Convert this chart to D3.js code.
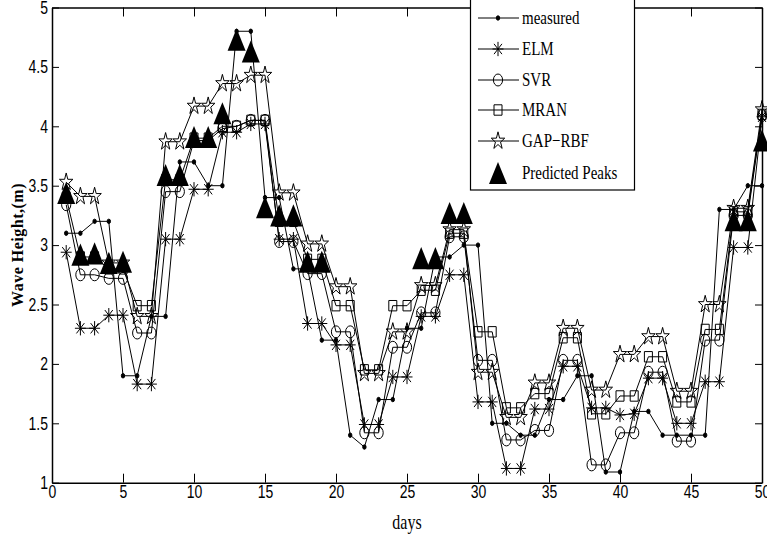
<!DOCTYPE html>
<html>
<head>
<meta charset="utf-8">
<script src="https://cdnjs.cloudflare.com/ajax/libs/d3/7.8.5/d3.min.js"></script>
<style>
    body { margin: 0; background: #fff; }
    svg { display: block; }
    .tick-label { font-family: "Liberation Sans", Arial, sans-serif; font-size: 14px; }
    .serif { font-family: "Liberation Serif", "Times New Roman", serif; }
</style>
</head>
<body>
<svg id="chart" width="767" height="540"></svg>
<script>
// days on the x axis
var days = [1, 2, 3, 4, 5, 6, 7, 8, 9, 10, 11, 12, 13, 14, 15, 16, 17, 18, 19, 20,
    21, 22, 23, 24, 25, 26, 27, 28, 29, 30, 31, 32, 33, 34, 35, 36, 37, 38, 39, 40,
    41, 42, 43, 44, 45, 46, 47, 48, 49, 50];

var xTicks = [0, 5, 10, 15, 20, 25, 30, 35, 40, 45, 50];
var yTicks = [1, 1.5, 2, 2.5, 3, 3.5, 4, 4.5, 5];

var measured = [3.10, 3.10, 3.20, 3.20, 1.90, 1.90, 2.40, 2.40, 3.70, 3.70,
    3.50, 3.50, 4.80, 4.80, 3.40, 3.40, 2.80, 2.80, 2.20, 2.20,
    1.40, 1.30, 1.70, 1.70, 2.30, 2.30, 2.90, 2.90, 3.00, 3.00,
    1.50, 1.50, 1.40, 1.40, 1.70, 1.70, 1.90, 1.90, 1.09, 1.09,
    1.60, 1.60, 1.40, 1.40, 1.40, 1.40, 3.30, 3.30, 3.50, 3.50];

var elm = [2.94, 2.30, 2.30, 2.41, 2.41, 1.83, 1.83, 3.05, 3.05, 3.47,
    3.47, 3.95, 3.95, 4.02, 4.02, 3.05, 3.05, 2.34, 2.34, 2.16,
    2.16, 1.49, 1.49, 1.89, 1.89, 2.40, 2.40, 2.75, 2.75, 1.68,
    1.68, 1.12, 1.12, 1.62, 1.62, 1.98, 1.98, 1.63, 1.63, 1.57,
    1.58, 1.88, 1.88, 1.50, 1.50, 1.85, 1.85, 2.98, 2.98, 4.08];

var svr = [3.34, 2.75, 2.75, 2.72, 2.72, 2.26, 2.26, 3.45, 3.45, 3.88,
    3.88, 3.98, 4.00, 4.05, 4.05, 3.03, 3.03, 2.76, 2.76, 2.27,
    2.27, 1.42, 1.42, 2.14, 2.14, 2.43, 2.43, 3.07, 3.07, 2.03,
    2.03, 1.36, 1.36, 1.44, 1.44, 2.03, 2.03, 1.15, 1.15, 1.42,
    1.42, 1.93, 1.93, 1.35, 1.35, 2.20, 2.20, 3.25, 3.25, 4.09];

var mran = [3.40, 2.90, 2.90, 2.80, 2.80, 2.49, 2.49, 3.55, 3.55, 3.90,
    3.90, 4.00, 4.00, 4.05, 4.05, 3.20, 3.20, 2.88, 2.88, 2.49,
    2.49, 1.95, 1.95, 2.49, 2.49, 2.62, 2.62, 3.10, 3.10, 2.27,
    2.27, 1.63, 1.63, 1.75, 1.75, 2.22, 2.22, 1.58, 1.58, 1.73,
    1.73, 2.06, 2.06, 1.68, 1.68, 2.29, 2.29, 3.28, 3.28, 4.10];

var gapRbf = [3.53, 3.41, 3.41, 2.85, 2.85, 2.40, 2.40, 3.87, 3.87, 4.17,
    4.17, 4.36, 4.36, 4.43, 4.43, 3.44, 3.44, 3.01, 3.01, 2.65,
    2.65, 1.92, 1.92, 2.27, 2.27, 2.66, 2.66, 3.13, 3.13, 1.93,
    1.93, 1.55, 1.55, 1.84, 1.84, 2.30, 2.30, 1.78, 1.78, 2.08,
    2.08, 2.23, 2.23, 1.77, 1.77, 2.50, 2.50, 3.31, 3.31, 4.14];

var peakDays = [1, 2, 3, 4, 5, 8, 9, 10, 11, 12, 13, 14, 15, 16, 17, 18, 19,
    26, 27, 28, 29, 48, 49, 50];
var peakValues = [3.44, 2.92, 2.93, 2.85, 2.86, 3.59, 3.59, 3.91, 3.91, 4.11, 4.73, 4.63, 3.32,
    3.25, 3.25, 2.86, 2.86, 2.89, 2.89, 3.27, 3.27, 3.21, 3.21, 3.88];

var legendNames = ['measured', 'ELM', 'SVR', 'MRAN', 'GAP\u2212RBF', 'Predicted Peaks'];

// the source figure is stretched vertically, so marks and text get this factor
var STRETCH = 1.3;

// marker shapes (d3.symbol custom types)
var markerTypes = {
    dot: { draw: function (ctx) { ctx.moveTo(1.7, 0); ctx.arc(0, 0, 1.7, 0, 2 * Math.PI); } },
    asterisk: { draw: function (ctx) {
        var r = 5.5, k = r * 0.72;
        ctx.moveTo(-r, 0); ctx.lineTo(r, 0);
        ctx.moveTo(0, -r); ctx.lineTo(0, r);
        ctx.moveTo(-k, -k); ctx.lineTo(k, k);
        ctx.moveTo(-k, k); ctx.lineTo(k, -k);
    } },
    circle: { draw: function (ctx) { ctx.moveTo(4.6, 0); ctx.arc(0, 0, 4.6, 0, 2 * Math.PI); } },
    square: { draw: function (ctx) { ctx.rect(-4, -4, 8, 8); } },
    star: { draw: function (ctx) { d3.symbolStar.draw(ctx, 56); } },
    triangle: { draw: function (ctx) {
        ctx.moveTo(0, -8.5); ctx.lineTo(9, 8.5); ctx.lineTo(-9, 8.5); ctx.closePath();
    } }
};

var seriesList = [
    { name: legendNames[0], values: measured, marker: 'dot', fill: '#000' },
    { name: legendNames[1], values: elm, marker: 'asterisk', fill: 'none' },
    { name: legendNames[2], values: svr, marker: 'circle', fill: 'none' },
    { name: legendNames[3], values: mran, marker: 'square', fill: 'none' },
    { name: legendNames[4], values: gapRbf, marker: 'star', fill: 'none' }
];

var margin = { left: 52, right: 5, top: 7.5, bottom: 57.3 },
    width = 767, height = 540;

var svg = d3.select('#chart');

var x = d3.scaleLinear().domain([0, 50]).range([margin.left, width - margin.right]);
var y = d3.scaleLinear().domain([1, 5]).range([height - margin.bottom, margin.top]);

function markerPath(type) {
    return d3.symbol().type(markerTypes[type])();
}

function placeMarker(px, py) {
    return 'translate(' + px + ',' + py + ') scale(1,' + STRETCH + ')';
}

// axes box with inward ticks
var xAxisG = svg.append('g')
    .attr('transform', 'translate(0,' + y(1) + ')')
    .call(d3.axisBottom(x).tickValues(xTicks).tickSizeInner(-9).tickSizeOuter(0).tickPadding(2));
var yAxisG = svg.append('g')
    .attr('transform', 'translate(' + x(0) + ',0)')
    .call(d3.axisLeft(y).tickValues(yTicks).tickSizeInner(-7).tickSizeOuter(0).tickPadding(4)
        .tickFormat(d3.format('')));
svg.append('g')
    .attr('transform', 'translate(0,' + y(5) + ')')
    .call(d3.axisTop(x).tickValues(xTicks).tickSizeInner(-9).tickSizeOuter(0).tickFormat(''));
svg.append('g')
    .attr('transform', 'translate(' + x(50) + ',0)')
    .call(d3.axisRight(y).tickValues(yTicks).tickSizeInner(-7).tickSizeOuter(0).tickFormat(''));

svg.selectAll('.domain').attr('stroke', '#000').attr('stroke-width', 1.5);
svg.selectAll('.tick line').attr('stroke', '#000').attr('stroke-width', 1);

xAxisG.selectAll('.tick text')
    .attr('class', 'tick-label')
    .attr('fill', '#000')
    .attr('transform', 'scale(1,' + STRETCH + ')');
yAxisG.selectAll('.tick text')
    .attr('class', 'tick-label')
    .attr('fill', '#000')
    .attr('transform', 'scale(1,' + STRETCH + ')');

// series lines + markers
var line = d3.line()
    .x(function (d) { return x(d.day); })
    .y(function (d) { return y(d.value); });

seriesList.forEach(function (s) {
    var pts = days.map(function (d, i) { return { day: d, value: s.values[i] }; });
    var g = svg.append('g').attr('class', 'series');
    g.append('path')
        .datum(pts)
        .attr('d', line)
        .attr('fill', 'none')
        .attr('stroke', '#000')
        .attr('stroke-width', 1);
    g.selectAll('path.mark')
        .data(pts)
        .enter()
        .append('path')
        .attr('class', 'mark')
        .attr('d', markerPath(s.marker))
        .attr('transform', function (d) { return placeMarker(x(d.day), y(d.value)); })
        .attr('fill', s.fill)
        .attr('stroke', '#000')
        .attr('stroke-width', 1)
        .attr('vector-effect', 'non-scaling-stroke');
});

var peaks = peakDays.map(function (d, i) { return { day: d, value: peakValues[i] }; });
svg.append('g').selectAll('path')
    .data(peaks)
    .enter()
    .append('path')
    .attr('d', markerPath('triangle'))
    .attr('transform', function (d) { return placeMarker(x(d.day), y(d.value)); })
    .attr('fill', '#000');

// axis titles
svg.append('text')
    .attr('class', 'serif')
    .attr('transform', 'translate(' + x(25) + ',529) scale(1,' + STRETCH + ')')
    .attr('text-anchor', 'middle')
    .style('font-size', '16px')
    .text('days');

svg.append('text')
    .attr('class', 'serif')
    .attr('transform', 'translate(23,245) rotate(-90)')
    .attr('text-anchor', 'middle')
    .style('font-size', '16px')
    .style('font-weight', 'bold')
    .style('letter-spacing', '0.5px')
    .text('Wave Height,(m)');

// legend
var legend = svg.append('g').attr('class', 'legend');
legend.append('rect')
    .attr('x', 470.5).attr('y', -1).attr('width', 164).attr('height', 191)
    .attr('fill', '#fff').attr('stroke', '#000').attr('stroke-width', 1.2);

var legendRows = [18, 49, 80, 110, 141, 173];
var legendItems = seriesList.concat([{ name: legendNames[5], marker: 'triangle', fill: '#000', noLine: true }]);

legendItems.forEach(function (s, i) {
    var ly = legendRows[i];
    if (!s.noLine) {
        legend.append('line')
            .attr('x1', 478).attr('x2', 519).attr('y1', ly).attr('y2', ly)
            .attr('stroke', '#000').attr('stroke-width', 1);
    }
    legend.append('path')
        .attr('d', markerPath(s.marker))
        .attr('transform', placeMarker(498, ly))
        .attr('fill', s.fill)
        .attr('stroke', s.noLine ? 'none' : '#000')
        .attr('stroke-width', 1)
        .attr('vector-effect', 'non-scaling-stroke');
    legend.append('text')
        .attr('class', 'serif')
        .attr('transform', 'translate(522,' + (ly + 6) + ') scale(1,' + STRETCH + ')')
        .style('font-size', '15px')
        .text(s.name);
});
</script>
</body>
</html>
